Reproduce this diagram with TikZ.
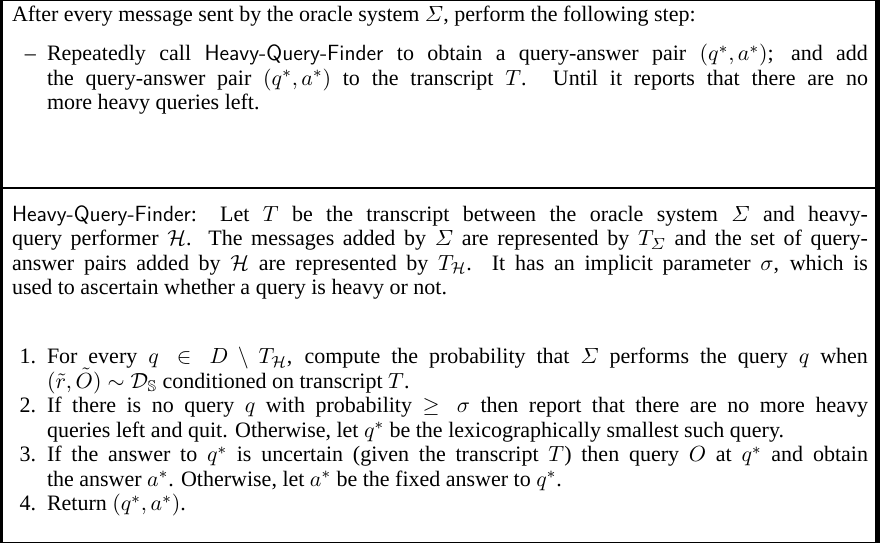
\documentclass[tikz,border=0pt]{standalone}
\usepackage[no-math]{fontspec}
\setmainfont{Liberation Serif}
\usepackage{amsmath,amssymb}
\newcommand{\mainsz}{\fontsize{11}{12.25}\selectfont\lineskiplimit=-20pt\relax}
\newcommand{\hqf}{\textsf{Heavy-Query-Finder}}
\tikzset{
  para/.style={anchor=north west, inner sep=0pt, outer sep=0pt, text width=428pt, align=justify, font=\mainsz},
  itemtext/.style={anchor=north west, inner sep=0pt, outer sep=0pt, text width=410.5pt, align=justify, font=\mainsz},
  itemlabel/.style={anchor=north east, inner sep=0pt, outer sep=0pt, font=\mainsz},
  rulestyle/.style={line width=0.6pt, black}
}
\begin{document}
\begin{tikzpicture}[x=1pt,y=-1pt]
\useasboundingbox (0,0) rectangle (440,271.5);
\fill[black] (0,0) rectangle (440,271.5);
\fill[white] (1.5,0.5) rectangle (437.5,271);
% first line baseline = node y + 8.575
\node[para] (intro) at (6,2.4) {\strut After every message sent by the oracle system $\varSigma$, perform the following step:};
\node[itemlabel] (l0) at (18,21.9) {\strut --};
\node[itemtext] (i0) at (23.5,21.9) {\strut Repeatedly call \hqf{} to obtain a query-answer pair $(q^*,a^*)$; and add\linebreak the query-answer pair $(q^*,a^*)$ to the transcript $T$. Until it reports that there are no\linebreak more heavy queries left.};
\coordinate (rl) at (0,94);
\coordinate (rr) at (440,94);
\draw[rulestyle] (rl) -- (rr);
\node[para] (hqfdef) at (6,102) {\strut \hqf: Let $T$ be the transcript between the oracle system $\varSigma$ and heavy-\linebreak query performer $\mathcal{H}$. The messages added by $\varSigma$ are represented by $T_{\varSigma}$ and the set of query-\linebreak answer pairs added by $\mathcal{H}$ are represented by $T_{\mathcal{H}}$. It has an implicit parameter $\sigma$, which is\linebreak used to ascertain whether a query is heavy or not.};
\node[itemlabel] (l1) at (18,173.4) {\strut 1.};
\node[itemtext] (e1) at (23.5,173.4) {\strut For every $q\in D\setminus T_{\mathcal{H}}$, compute the probability that $\varSigma$ performs the query $q$ when\linebreak $(\tilde{r},\tilde{O})\sim\mathcal{D}_{\mathbb{S}}$ conditioned on transcript $T$.};
\node[itemlabel] (l2) at (18,197.9) {\strut 2.};
\node[itemtext] (e2) at (23.5,197.9) {\strut If there is no query $q$ with probability $\geq\sigma$ then report that there are no more heavy\linebreak queries left and quit. Otherwise, let $q^*$ be the lexicographically smallest such query.};
\node[itemlabel] (l3) at (18,222.4) {\strut 3.};
\node[itemtext] (e3) at (23.5,222.4) {\strut If the answer to $q^*$ is uncertain (given the transcript $T$) then query $O$ at $q^*$ and obtain\linebreak the answer $a^*$. Otherwise, let $a^*$ be the fixed answer to $q^*$.};
\node[itemlabel] (l4) at (18,246.9) {\strut 4.};
\node[itemtext] (e4) at (23.5,246.9) {\strut Return $(q^*,a^*)$.};
\end{tikzpicture}
\end{document}
